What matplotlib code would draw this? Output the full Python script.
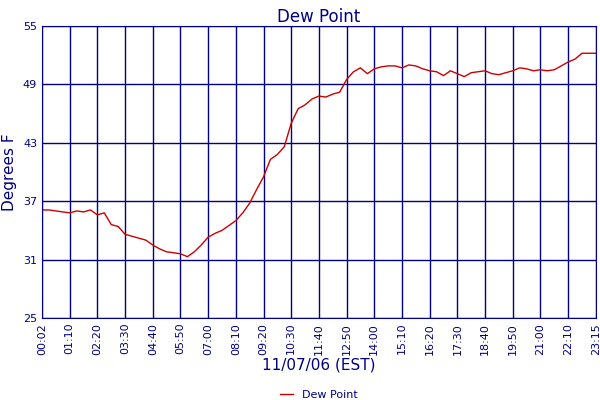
import matplotlib
matplotlib.use("Agg")
import matplotlib.pyplot as plt

navy = "#000080"

# tick labels, evenly spaced along the time axis
tick_labels = ["00:02", "01:10", "02:20", "03:30", "04:40", "05:50", "07:00", "08:10",
               "09:20", "10:30", "11:40", "12:50", "14:00", "15:10", "16:20", "17:30",
               "18:40", "19:50", "21:00", "22:10", "23:15"]

# dew point readings, 4 per tick interval
dew = [36.1, 36.1, 36.0, 35.9, 35.8, 36.0, 35.9, 36.1, 35.6, 35.8,
       34.6, 34.4, 33.6, 33.4, 33.2, 33.0, 32.5, 32.1, 31.8, 31.7,
       31.6, 31.3, 31.8, 32.5, 33.3, 33.7, 34.0, 34.5, 35.0, 35.8,
       36.8, 38.2, 39.5, 41.3, 41.8, 42.6, 45.0, 46.5, 46.9, 47.5,
       47.8, 47.7, 48.0, 48.2, 49.5, 50.3, 50.7, 50.1, 50.6, 50.8,
       50.9, 50.9, 50.7, 51.0, 50.9, 50.6, 50.4, 50.3, 49.9, 50.4,
       50.1, 49.8, 50.2, 50.3, 50.4, 50.1, 50.0, 50.2, 50.4, 50.7,
       50.6, 50.4, 50.5, 50.4, 50.5, 50.9, 51.3, 51.6, 52.2, 52.2,
       52.2]

n = len(dew)
x = [i * 20 / (n - 1) for i in range(n)]

fig, ax = plt.subplots(figsize=(6, 4), dpi=100)
fig.subplots_adjust(left=0.07, right=0.993, top=0.935, bottom=0.205)

ax.plot(x, dew, color="#cc0000", linewidth=1, label="Dew Point")
ax.set_xlim(0, 20)
ax.set_ylim(25, 55)
ax.set_yticks([25, 31, 37, 43, 49, 55])
ax.set_xticks(range(21))
ax.set_xticklabels(tick_labels, rotation=90, fontsize=8, color=navy)
ax.tick_params(axis="y", labelsize=8, labelcolor=navy, length=0)
ax.tick_params(axis="x", length=0)
ax.grid(True, color=navy, linewidth=1)
for s in ax.spines.values():
    s.set_color(navy)

ax.set_title("Dew Point", color=navy, fontsize=12, pad=3)
ax.set_ylabel("Degrees F", color=navy, fontsize=11)
ax.set_xlabel("11/07/06 (EST)", color=navy, fontsize=11, labelpad=2)
ax.legend(loc="upper center", bbox_to_anchor=(0.5, -0.225), frameon=False,
          fontsize=8, handlelength=1.2, labelcolor=navy, borderpad=0.1)

plt.savefig("out.png")
